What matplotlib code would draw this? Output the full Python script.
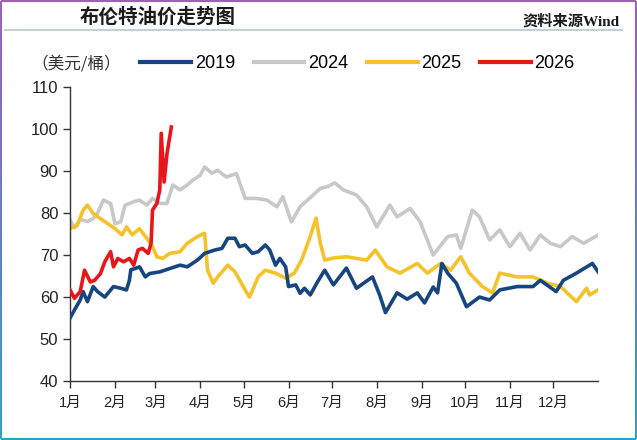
import numpy as np
import matplotlib
matplotlib.use("Agg")
import matplotlib.pyplot as plt
from matplotlib.collections import LineCollection

# day-of-year positions and prices (USD/bbl)
days_2019 = [0, 3, 7, 9, 12, 16, 19, 24, 30, 35, 39, 41, 42, 45, 48, 52, 55, 62, 69, 76, 81, 88,
             93, 100, 105, 109, 114, 117, 121, 126, 130, 135, 138, 142, 145, 149, 151, 156, 159,
             162, 166, 171, 176, 182, 191, 198, 209, 214, 218, 226, 233, 240, 245, 251, 254, 257,
             261, 267, 274, 283, 290, 297, 309, 320, 325, 336, 341, 350, 361, 365]
vals_2019 = [55, 56.9, 59.3, 61.3, 58.9, 62.5, 61.3, 60, 62.5, 62.1, 61.7, 64, 66.5, 66.8, 67.2,
             64.8, 65.6, 66, 66.8, 67.6, 67.2, 68.8, 70.4, 71.2, 71.6, 74, 74, 72, 72.4, 70.4,
             70.8, 72.4, 71.2, 67.6, 69.2, 67.2, 62.5, 62.9, 60.9, 62.1, 60.5, 63.6, 66.4, 62.9,
             66.9, 62.1, 64.8, 60.5, 56.3, 61, 59.5, 61, 58.6, 62.4, 61, 68, 65.7, 63.3, 57.7,
             60, 59.3, 61.7, 62.5, 62.5, 64, 61.3, 64, 65.7, 68, 66]

days_2024 = [0, 3, 7, 12, 16, 19, 23, 28, 31, 35, 38, 44, 48, 53, 57, 62, 67, 71, 76, 81, 85, 90,
             93, 98, 102, 108, 115, 121, 129, 136, 143, 147, 153, 159, 168, 173, 178, 183, 189,
             198, 205, 212, 221, 226, 235, 242, 251, 261, 267, 270, 278, 283, 290, 297, 304, 311,
             318, 325, 332, 339, 347, 355, 365]
vals_2024 = [78.3, 76.5, 78.5, 78, 78.7, 80, 83.1, 82.3, 77.5, 77.9, 81.9, 82.7, 83.1, 81.9, 83.5,
             82.3, 82.3, 86.7, 85.5, 86.7, 87.9, 89, 91, 89.5, 90.2, 88.6, 89.4, 83.5, 83.5, 83.1,
             81.5, 83.9, 77.9, 81.5, 84.3, 85.9, 86.3, 87.2, 85.5, 84.3, 81.5, 76.7, 81.9, 79.1,
             81.1, 77.9, 70, 74.4, 74.8, 71.6, 80.7, 79.1, 73.6, 76, 72, 75.2, 71.2, 74.8, 72.8,
             72, 74.4, 72.8, 74.8]

days_2025 = [0, 5, 9, 12, 16, 21, 26, 31, 36, 39, 43, 48, 53, 57, 60, 64, 69, 76, 81, 88, 93, 95,
             99, 102, 109, 114, 121, 124, 130, 135, 142, 149, 155, 160, 166, 170, 173, 176, 182,
             191, 205, 211, 219, 228, 240, 247, 256, 263, 270, 276, 285, 292, 297, 309, 320, 330,
             339, 350, 357, 359, 365]
vals_2025 = [76.3, 77.1, 80.7, 81.9, 79.9, 78.7, 77.5, 76.3, 74.8, 76.7, 74.8, 76.3, 74, 72, 69.6,
             69.2, 70.4, 70.8, 72.8, 74.4, 75.2, 66.4, 63.3, 64.8, 67.6, 66, 61.7, 60, 64.8, 66.4,
             65.7, 64.5, 65.7, 68.8, 74.4, 78.8, 72.8, 68.8, 69.3, 69.6, 68.8, 71.2, 67.2, 65.7,
             68, 65.7, 68, 66.4, 69.6, 65.7, 62.5, 61, 65.7, 64.8, 64.8, 63.3, 62.5, 58.9, 62.1,
             60.5, 61.7]

days_2026 = [0, 3, 7, 10, 14, 17, 21, 24, 28, 30, 33, 37, 41, 44, 47, 50, 54, 56, 57, 60, 62, 63,
             65, 67, 70]
vals_2026 = [61.7, 59.7, 61.3, 66.4, 63.6, 64, 65.6, 68.4, 70.8, 67.2, 69.2, 68.4, 69.2, 67.6, 71.2,
             71.6, 70.4, 72.8, 80.7, 82.3, 85.5, 99, 87.4, 94.2, 100.5]

month_starts = [0, 31, 59, 90, 120, 151, 181, 212, 243, 273, 304, 334]
month_labels = ['1月', '2月', '3月', '4月', '5月', '6月', '7月', '8月', '9月', '10月', '11月', '12月']

series = [
    ('2019', days_2019, vals_2019, '#17457f', 3),
    ('2024', days_2024, vals_2024, '#c8c8c8', 1),
    ('2025', days_2025, vals_2025, '#f4c22b', 2),
    ('2026', days_2026, vals_2026, '#e8161b', 4),
]

LAT = ['Liberation Sans', 'Noto Sans CJK SC']
CJK = ['Noto Sans CJK SC', 'DejaVu Sans']

fig = plt.figure(figsize=(6.37, 4.40), dpi=100)
ax = fig.add_axes([0.110, 0.134, 0.829, 0.668])

for name, d, v, c, z in series:
    ax.plot(d, v, color=c, lw=2.6, label=name, zorder=z, solid_joinstyle='round')

ax.set_xlim(0, 365)
ax.set_ylim(40, 110)
ax.set_yticks(range(40, 111, 10))
ax.set_xticks(month_starts)
ax.set_xticklabels(month_labels, family=LAT, fontsize=10.5)
for t in ax.get_yticklabels():
    t.set_family(LAT)
    t.set_fontsize(12)
ax.tick_params(axis='both', direction='out', length=5, width=1, color='#333333', colors='#222222')
ax.tick_params(axis='x', pad=6)
for s in ['top', 'right']:
    ax.spines[s].set_visible(False)
for s in ['left', 'bottom']:
    ax.spines[s].set_color('#333333')
    ax.spines[s].set_linewidth(1)

# legend row with the unit label
fig.text(0.050, 0.855, '（美元/桶）', family=CJK, fontsize=12, color='#333333', va='center')
leg = fig.legend(loc='center left', bbox_to_anchor=(0.195, 0.855), ncol=4, frameon=False,
                 handlelength=2.8, handletextpad=0.2, columnspacing=1.05,
                 prop={'family': LAT, 'size': 13})
for line in leg.get_lines():
    line.set_linewidth(3)

# header
fig.text(0.125, 0.961, '布伦特油价走势图', family=CJK, fontsize=14, fontweight='bold',
         color='#1a1a1a', va='center')
fig.text(0.973, 0.951, '资料来源Wind', family=['Liberation Serif', 'Noto Sans CJK SC'],
         fontsize=11, fontweight='bold', color='#1a1a1a', va='center', ha='right')
fig.add_artist(plt.Line2D([0.008, 0.977], [0.932, 0.932], color='#c3cfdb', lw=1.5))

# gradient frame, purple at top to teal at bottom
def grad_edge(x0, y0, x1, y1, c0, c1, n=60):
    xs = np.linspace(x0, x1, n)
    ys = np.linspace(y0, y1, n)
    pts = np.column_stack([xs, ys]).reshape(-1, 1, 2)
    segs = np.concatenate([pts[:-1], pts[1:]], axis=1)
    c0 = np.array(matplotlib.colors.to_rgb(c0))
    c1 = np.array(matplotlib.colors.to_rgb(c1))
    cols = [c0 + (c1 - c0) * t for t in np.linspace(0, 1, n - 1)]
    lc = LineCollection(segs, colors=cols, lw=1.5, transform=fig.transFigure)
    fig.add_artist(lc)

purple = '#9a62b3'
teal = '#3a9cbd'
grad_edge(0.002, 0.998, 0.998, 0.998, purple, purple)
grad_edge(0.002, 0.998, 0.002, 0.002, purple, teal)
grad_edge(0.998, 0.998, 0.998, 0.002, purple, teal)
grad_edge(0.002, 0.002, 0.998, 0.002, teal, teal)

fig.savefig('out.png', dpi=100)
